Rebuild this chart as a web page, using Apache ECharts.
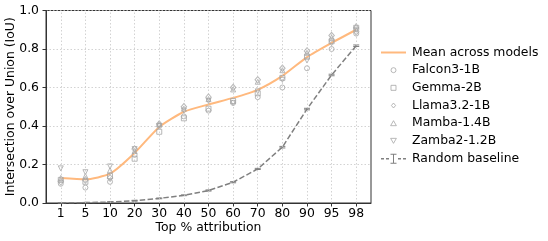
<!DOCTYPE html>
<html><head><meta charset="utf-8">
<script src="https://cdn.jsdelivr.net/npm/echarts@6/dist/echarts.min.js"></script>
<style>html,body{margin:0;padding:0;background:#fff}#c{width:548px;height:241px}</style>
</head><body><div id="c"></div>
<script>
const categories = ['1','5','10','20','30','40','50','60','70','80','90','95','98'];
const meanValues = [0.13,0.123,0.152,0.26,0.395,0.474,0.512,0.546,0.588,0.66,0.758,0.832,0.90];
const falcon = [0.10,0.08,0.11,0.25,0.40,0.45,0.48,0.52,0.55,0.60,0.70,0.80,0.88];
const gemma  = [0.12,0.11,0.14,0.23,0.37,0.44,0.49,0.53,0.57,0.65,0.76,0.84,0.91];
const llama  = [0.11,0.12,0.13,0.28,0.41,0.50,0.55,0.60,0.64,0.70,0.79,0.87,0.89];
const mamba  = [0.13,0.14,0.17,0.27,0.41,0.49,0.54,0.59,0.63,0.69,0.78,0.86,0.92];
const zamba  = [0.18,0.16,0.19,0.28,0.40,0.48,0.53,0.52,0.58,0.64,0.74,0.83,0.90];
const randomBaseline = [0.001,0.002,0.005,0.012,0.024,0.04,0.065,0.108,0.177,0.29,0.488,0.665,0.817];
const randomErr = [0.001,0.001,0.001,0.002,0.002,0.002,0.003,0.003,0.003,0.004,0.004,0.004,0.004];
const yTicks = [0,0.2,0.4,0.6,0.8,1.0];

const FONT = 'DejaVu Sans';
const FS = 12.4;
const MARK = '#a6a6a6';
const ORANGE = '#ffb97e';
const GRAY = '#808080';
const idx = categories.map((c, i) => i);
const pts = arr => arr.map((v, i) => [i, v]);
const SQUARE = 'path://M0,0H10V10H0Z';
const DIAMOND = 'path://M5,0L10,6L5,12L0,6Z';
const UP = 'path://M5,0L10,8.66H0Z';
const DOWN = 'path://M0,0H10L5,8.66Z';
const gridLine = {color: '#c8c8c8', width: 0.8, type: [1.5, 2]};

const models = [
  {name: 'Falcon3-1B', data: falcon, symbol: 'circle', size: 5},
  {name: 'Gemma-2B', data: gemma, symbol: 'rect', size: 5},
  {name: 'Llama3.2-1B', data: llama, symbol: 'diamond', size: [5.5, 6.5]},
  {name: 'Mamba-1.4B', data: mamba, symbol: 'triangle', size: 5},
  {name: 'Zamba2-1.2B', data: zamba, symbol: DOWN, size: 5}
];

const series = [];
// vertical grid lines at category positions
series.push({
  name: 'vgrid', type: 'line', data: [], silent: true,
  markLine: {silent: true, symbol: 'none', label: {show: false}, animation: false,
    lineStyle: gridLine, data: idx.map(i => ({xAxis: i}))},
  z: 0
});
models.forEach(m => {
  series.push({
    name: m.name, type: 'scatter', data: pts(m.data),
    symbol: m.symbol, symbolSize: m.size,
    itemStyle: {color: 'rgba(255,255,255,0)', borderColor: MARK, borderWidth: 1},
    z: 3
  });
});
series.push({
  name: 'Mean across models', type: 'line', data: pts(meanValues),
  symbol: 'none', smooth: 0.2,
  lineStyle: {color: ORANGE, width: 2},
  itemStyle: {color: ORANGE},
  z: 2
});
series.push({
  name: 'Random baseline', type: 'line', data: pts(randomBaseline),
  symbol: 'none',
  lineStyle: {color: GRAY, width: 1.5, type: [5.5, 2.4]},
  itemStyle: {color: GRAY},
  z: 2
});
series.push({
  name: 'Random baseline err', type: 'custom',
  data: randomBaseline.map((v, i) => [i, v, randomErr[i]]),
  renderItem: function (params, api) {
    const x = api.value(0), y = api.value(1), e = api.value(2);
    const t = api.coord([x, y + e]), b = api.coord([x, y - e]);
    const h = 3;
    const st = {stroke: GRAY, lineWidth: 1};
    return {type: 'group', children: [
      {type: 'line', shape: {x1: t[0], y1: t[1], x2: b[0], y2: b[1]}, style: st},
      {type: 'line', shape: {x1: t[0] - h, y1: t[1], x2: t[0] + h, y2: t[1]}, style: st},
      {type: 'line', shape: {x1: b[0] - h, y1: b[1], x2: b[0] + h, y2: b[1]}, style: st}
    ]};
  },
  z: 2
});

const legendText = {fontFamily: FONT, fontSize: FS, color: '#000', lineHeight: 15, padding: [0, 0, 0, 1]};
const markerItem = (name, icon) => ({name: name, icon: icon,
  itemStyle: {color: 'rgba(255,255,255,0)', borderColor: MARK, borderWidth: 1}});

const chart = echarts.init(document.getElementById('c'), null, {renderer: 'canvas'});
chart.setOption({
  animation: false,
  backgroundColor: '#fff',
  textStyle: {fontFamily: FONT},
  grid: {left: 46, right: 177, top: 10.5, bottom: 38, show: true, borderColor: '#333', borderWidth: 1, outerBoundsMode: 'none'},
  xAxis: {
    type: 'value', min: -0.6, max: 12.6,
    name: 'Top % attribution', nameLocation: 'middle', nameGap: 19, nameMoveOverlap: false,
    nameTextStyle: {fontFamily: FONT, fontSize: FS, color: '#000'},
    axisLine: {show: true, onZero: false, lineStyle: {color: '#333', width: 1}},
    axisTick: {show: true, length: 3.5, customValues: idx, lineStyle: {color: '#333'}},
    axisLabel: {customValues: idx, margin: 5, fontFamily: FONT, fontSize: FS, color: '#000',
      formatter: v => categories[Math.round(v)]},
    splitLine: {show: false}
  },
  yAxis: {
    type: 'value', min: 0, max: 1, interval: 0.2,
    name: 'Intersection over Union (IoU)', nameLocation: 'middle', nameGap: 29, nameMoveOverlap: false,
    nameTextStyle: {fontFamily: FONT, fontSize: FS, color: '#000'},
    axisLine: {show: true, onZero: false, lineStyle: {color: '#333', width: 1}},
    axisTick: {show: true, length: 3.5, lineStyle: {color: '#333'}},
    axisLabel: {margin: 7, fontFamily: FONT, fontSize: FS, color: '#000',
      formatter: v => v.toFixed(1)},
    splitLine: {show: true, lineStyle: gridLine}
  },
  legend: [{
    orient: 'vertical', left: 381, top: 45, padding: 0, itemWidth: 25, itemHeight: 5, itemGap: 2.67,
    selectedMode: false, symbolKeepAspect: true,
    data: [
      {name: 'Mean across models', icon: 'path://M0,0M0,1.5H25V3.5H0ZM25,5',
        itemStyle: {color: ORANGE, borderWidth: 0}},
      markerItem('Falcon3-1B', 'circle'),
      markerItem('Gemma-2B', SQUARE),
      markerItem('Llama3.2-1B', DIAMOND),
      markerItem('Mamba-1.4B', UP),
      markerItem('Zamba2-1.2B', DOWN)
    ],
    textStyle: legendText
  }, {
    orient: 'vertical', left: 381, top: 151.2, padding: 0, itemWidth: 25, itemHeight: 12,
    selectedMode: false, symbolKeepAspect: true,
    data: [{name: 'Random baseline',
      icon: 'path://M0,0M0,5.25H3V6.75H0ZM5,5.25H8V6.75H5ZM17,5.25H20V6.75H17ZM22,5.25H25V6.75H22Z' +
            'M9.5,1H15.5V2H13V10H15.5V11H9.5V10H12V2H9.5ZM25,12',
      itemStyle: {color: GRAY, borderWidth: 0}}],
    textStyle: legendText
  }],
  series: series
});
</script>
</body></html>
